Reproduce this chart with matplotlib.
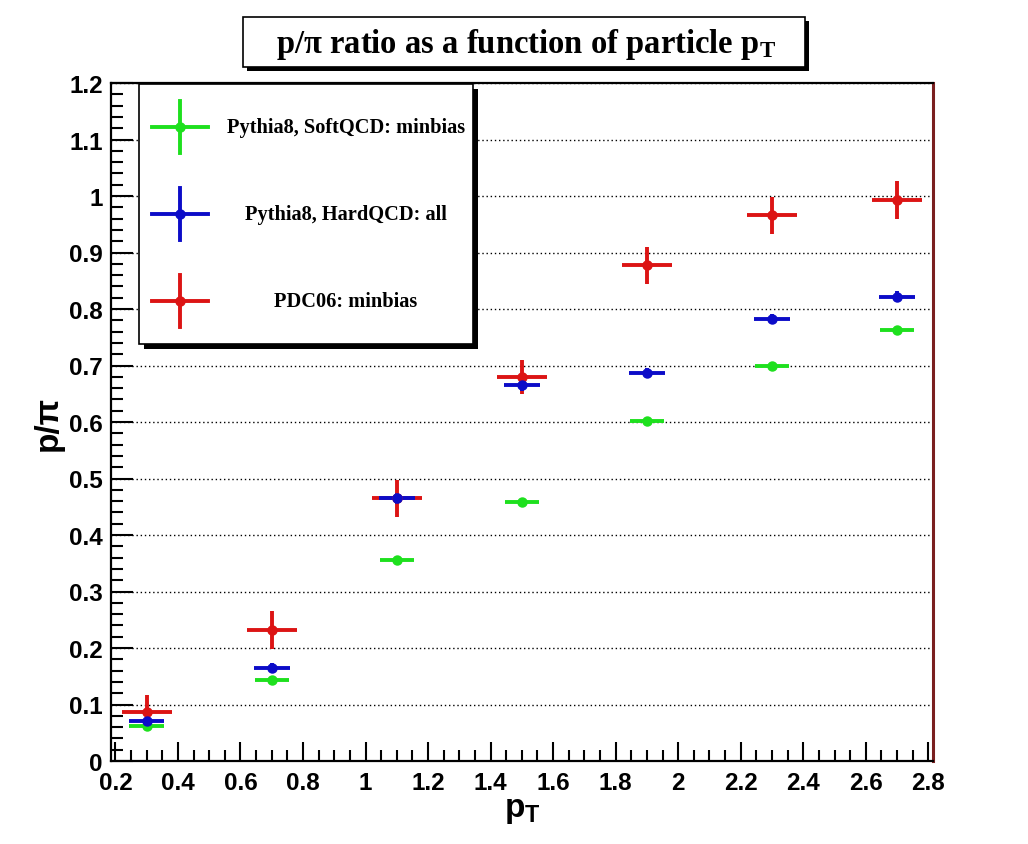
import matplotlib
matplotlib.use("Agg")
import matplotlib.pyplot as plt
from matplotlib.patches import Rectangle
from matplotlib.lines import Line2D
from matplotlib.ticker import MultipleLocator, FuncFormatter

# ------------------- data -------------------
pt = [0.3, 0.7, 1.1, 1.5, 1.9, 2.3, 2.7]

soft_ratio = [0.062, 0.144, 0.356, 0.459, 0.601, 0.700, 0.762]
soft_yerr = [0.006, 0.006, 0.006, 0.006, 0.006, 0.007, 0.007]
soft_xerr = [0.055] * 7

hard_ratio = [0.071, 0.165, 0.465, 0.665, 0.686, 0.782, 0.822]
hard_yerr = [0.010, 0.009, 0.010, 0.010, 0.009, 0.009, 0.009]
hard_xerr = [0.057] * 7

pdc_ratio = [0.087, 0.232, 0.465, 0.680, 0.877, 0.966, 0.993]
pdc_yerr = [0.030, 0.034, 0.033, 0.030, 0.033, 0.033, 0.034]
pdc_xerr = [0.08] * 7

labels = ["Pythia8, SoftQCD: minbias", "Pythia8, HardQCD: all", "PDC06: minbias"]
colors = ["#1ee01e", "#0c0cc8", "#dc1414"]

W, H = 1028, 845


def fx(px):
    return px / W


def fy(py):
    return 1 - py / H


plt.rcParams['font.family'] = 'Liberation Sans'
plt.rcParams['font.weight'] = 'bold'

fig = plt.figure(figsize=(W / 100, H / 100), dpi=100)
ax = fig.add_axes([fx(111), fy(762), fx(933) - fx(111), fy(84) - fy(762)])

# draw order: red, green, blue
series = [
    (pdc_ratio, pdc_yerr, pdc_xerr, colors[2]),
    (soft_ratio, soft_yerr, soft_xerr, colors[0]),
    (hard_ratio, hard_yerr, hard_xerr, colors[1]),
]
for yv, ye, xe, c in series:
    ax.errorbar(pt, yv, yerr=ye, xerr=xe, fmt='o', color=c, ms=6.5,
                elinewidth=2.8, capsize=0, zorder=3)

ax.set_xlim(0.186, 2.815)
ax.set_ylim(0, 1.2)

ax.xaxis.set_major_locator(MultipleLocator(0.2))
ax.xaxis.set_minor_locator(MultipleLocator(0.05))
ax.yaxis.set_major_locator(MultipleLocator(0.1))
ax.yaxis.set_minor_locator(MultipleLocator(0.02))
fmt = FuncFormatter(lambda v, p: f"{v:g}")
ax.xaxis.set_major_formatter(fmt)
ax.yaxis.set_major_formatter(fmt)

ax.tick_params(axis='both', which='both', direction='in', top=False, right=False,
               labelsize=17.5, width=1.5)
ax.tick_params(axis='y', which='major', length=16, pad=6)
ax.tick_params(axis='y', which='minor', length=8.5)
ax.tick_params(axis='x', which='major', length=14, pad=7)
ax.tick_params(axis='x', which='minor', length=8)
for lab in ax.get_xticklabels() + ax.get_yticklabels():
    lab.set_fontweight('bold')

ax.yaxis.grid(True, linestyle=(0, (1, 2)), color='black', linewidth=1.0)
ax.set_axisbelow(True)

for side in ['left', 'bottom', 'top']:
    ax.spines[side].set_linewidth(1.6)
    ax.spines[side].set_color('black')
ax.spines['right'].set_color('#7a1f1f')
ax.spines['right'].set_linewidth(2.2)

ax.set_xlabel(r"$\mathdefault{p_T}$", fontsize=24, fontweight='bold', labelpad=0)
ax.set_ylabel("p/π", fontsize=24, fontweight='bold', labelpad=4)

# ------------------- title box -------------------
fig.patches.append(Rectangle((fx(247), fy(72)), fx(805) - fx(243), fy(18) - fy(68),
                             transform=fig.transFigure, facecolor='black',
                             edgecolor='none', zorder=5))
fig.patches.append(Rectangle((fx(243), fy(68)), fx(805) - fx(243), fy(18) - fy(68),
                             transform=fig.transFigure, facecolor='white',
                             edgecolor='black', linewidth=1.2, zorder=6))
fig.text(fx(526), fy(44), r"p/π ratio as a function of particle $\mathdefault{p_T}$",
         ha='center', va='center', fontsize=23.5, fontweight='bold',
         family='Liberation Serif', zorder=7)

# ------------------- legend box -------------------
fig.patches.append(Rectangle((fx(144), fy(350)), fx(473) - fx(139), fy(85) - fy(345),
                             transform=fig.transFigure, facecolor='black',
                             edgecolor='none', zorder=5))
fig.patches.append(Rectangle((fx(139), fy(345)), fx(473) - fx(139), fy(85) - fy(345),
                             transform=fig.transFigure, facecolor='white',
                             edgecolor='black', linewidth=1.2, zorder=6))
entry_y = [128, 215, 302]
for yy, lab, c in zip(entry_y, labels, colors):
    fig.add_artist(Line2D([fx(152), fx(208)], [fy(yy), fy(yy)], color=c, lw=2.8,
                          transform=fig.transFigure, zorder=7))
    fig.add_artist(Line2D([fx(180), fx(180)], [fy(yy - 26), fy(yy + 26)], color=c, lw=2.8,
                          transform=fig.transFigure, zorder=7))
    fig.add_artist(Line2D([fx(180)], [fy(yy)], color=c, marker='o', ms=6.5,
                          transform=fig.transFigure, zorder=8))
    fig.text(fx(346), fy(yy), lab, ha='center', va='center', fontsize=14.7,
             fontweight='bold', family='Liberation Serif', zorder=8)

fig.savefig("out.png", dpi=100)
